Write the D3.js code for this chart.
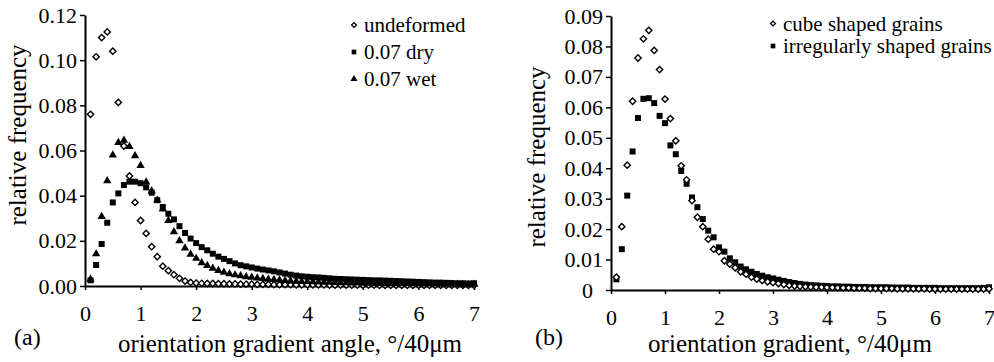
<!DOCTYPE html>
<html>
<head>
<meta charset="utf-8">
<script src="https://cdn.jsdelivr.net/npm/d3@7"></script>
<style>
  body { margin: 0; background: #fff; }
  svg { font-family: "Liberation Serif", "Times New Roman", serif; }
  .axis path, .axis line { stroke: #000; }
  .axis text { font-family: "Liberation Serif", serif; font-size: 22px; fill: #000; }
</style>
</head>
<body>
<div id="chart"></div>
<script>
// bins of the orientation gradient, 0.1 ... 7.0
const bins = d3.range(1, 71).map(i => i / 10);

/* panel (a) */
const undeformed = [
  0.0760, 0.1015, 0.1100, 0.1125, 0.1040, 0.0813, 0.0620, 0.0487, 0.0370, 0.0290,
  0.0233, 0.0174, 0.0130, 0.0088, 0.0068, 0.0050, 0.0034, 0.0022, 0.0016, 0.0013,
  0.0012, 0.0011, 0.0011, 0.0010, 0.0010, 0.0009, 0.0009, 0.0008, 0.0008, 0.0008,
  0.0007, 0.0007, 0.0007, 0.0006, 0.0006, 0.0006, 0.0006, 0.0005, 0.0005, 0.0005,
  0.0005, 0.0005, 0.0005, 0.0004, 0.0004, 0.0004, 0.0004, 0.0004, 0.0004, 0.0004,
  0.0004, 0.0004, 0.0003, 0.0003, 0.0003, 0.0003, 0.0003, 0.0003, 0.0003, 0.0003,
  0.0003, 0.0003, 0.0003, 0.0003, 0.0003, 0.0003, 0.0003, 0.0003, 0.0003, 0.0003
];
const dry = [
  0.0025, 0.0093, 0.0186, 0.0280, 0.0370, 0.0410, 0.0447, 0.0462, 0.0462, 0.0455,
  0.0437, 0.0413, 0.0380, 0.0350, 0.0320, 0.0295, 0.0265, 0.0235, 0.0210, 0.0190,
  0.0172, 0.0158, 0.0143, 0.0130, 0.0120, 0.0110, 0.0100, 0.0092, 0.0087, 0.0082,
  0.0077, 0.0073, 0.0069, 0.0065, 0.0060, 0.0055, 0.0050, 0.0046, 0.0043, 0.0041,
  0.0039, 0.0038, 0.0036, 0.0034, 0.0032, 0.0031, 0.0030, 0.0029, 0.0028, 0.0027,
  0.0026, 0.0025, 0.0025, 0.0024, 0.0023, 0.0022, 0.0021, 0.0020, 0.0019, 0.0018,
  0.0017, 0.0016, 0.0015, 0.0015, 0.0014, 0.0013, 0.0012, 0.0012, 0.0011, 0.0012
];
const wet = [
  0.0030, 0.0142, 0.0307, 0.0466, 0.0580, 0.0635, 0.0645, 0.0617, 0.0576, 0.0533,
  0.0460, 0.0420, 0.0380, 0.0340, 0.0290, 0.0240, 0.0200, 0.0168, 0.0140, 0.0122,
  0.0103, 0.0090, 0.0078, 0.0068, 0.0061, 0.0054, 0.0049, 0.0045, 0.0041, 0.0038,
  0.0035, 0.0033, 0.0030, 0.0028, 0.0026, 0.0024, 0.0022, 0.0021, 0.0020, 0.0019,
  0.0018, 0.0017, 0.0016, 0.0016, 0.0015, 0.0014, 0.0014, 0.0013, 0.0013, 0.0012,
  0.0012, 0.0011, 0.0011, 0.0010, 0.0010, 0.0010, 0.0009, 0.0009, 0.0009, 0.0008,
  0.0008, 0.0008, 0.0008, 0.0007, 0.0007, 0.0007, 0.0007, 0.0006, 0.0006, 0.0007
];

/* panel (b) */
const cube = [
  0.0042, 0.0208, 0.0410, 0.0620, 0.0762, 0.0825, 0.0853, 0.0787, 0.0724, 0.0627,
  0.0563, 0.0490, 0.0408, 0.0362, 0.0294, 0.0239, 0.0208, 0.0167, 0.0134, 0.0126,
  0.0096, 0.0085, 0.0073, 0.0060, 0.0052, 0.0042, 0.0036, 0.0031, 0.0027, 0.0024,
  0.0021, 0.0018, 0.0015, 0.0013, 0.0012, 0.0011, 0.0010, 0.0009, 0.0009, 0.0008,
  0.0008, 0.0007, 0.0007, 0.0007, 0.0006, 0.0006, 0.0006, 0.0005, 0.0005, 0.0005,
  0.0005, 0.0005, 0.0004, 0.0004, 0.0004, 0.0004, 0.0004, 0.0004, 0.0003, 0.0003,
  0.0003, 0.0003, 0.0003, 0.0003, 0.0003, 0.0003, 0.0003, 0.0003, 0.0003, 0.0004
];
const irregular = [
  0.0035, 0.0134, 0.0310, 0.0455, 0.0565, 0.0628, 0.0630, 0.0614, 0.0572, 0.0548,
  0.0475, 0.0446, 0.0391, 0.0349, 0.0304, 0.0272, 0.0233, 0.0195, 0.0173, 0.0140,
  0.0126, 0.0104, 0.0091, 0.0077, 0.0068, 0.0060, 0.0053, 0.0047, 0.0042, 0.0038,
  0.0034, 0.0030, 0.0026, 0.0023, 0.0020, 0.0018, 0.0016, 0.0015, 0.0014, 0.0013,
  0.0012, 0.0012, 0.0011, 0.0011, 0.0010, 0.0010, 0.0010, 0.0009, 0.0009, 0.0009,
  0.0009, 0.0008, 0.0008, 0.0008, 0.0008, 0.0007, 0.0007, 0.0007, 0.0007, 0.0007,
  0.0006, 0.0006, 0.0006, 0.0006, 0.0006, 0.0006, 0.0006, 0.0006, 0.0007, 0.0009
];

const xTicks = [0, 1, 2, 3, 4, 5, 6, 7];
const yTicksA = [0, 0.02, 0.04, 0.06, 0.08, 0.10, 0.12];
const yTicksB = [0, 0.01, 0.02, 0.03, 0.04, 0.05, 0.06, 0.07, 0.08, 0.09];

const width = 994, height = 362;

const svg = d3.select("#chart")
    .append("svg")
    .attr("width", width)
    .attr("height", height);

/* marker shapes */
const shapes = {
  diamond:  s => d3.symbol(d3.symbolSquare, s)(),
  square:   s => d3.symbol(d3.symbolSquare, s)(),
  triangle: s => d3.symbol(d3.symbolTriangle, s)()
};
const rot = { diamond: 45, square: 0, triangle: 0 };
const fillOf = { diamond: "#fff", square: "#000", triangle: "#000" };
const sizeOf = { diamond: 20, square: 36, triangle: 30 };

function drawPanel(cfg) {
  const xScale = d3.scaleLinear().domain([0, 7]).range(cfg.xRange);
  const yScale = d3.scaleLinear().domain(cfg.yDomain).range(cfg.yRange);

  // axes
  svg.append("g")
      .attr("class", "axis")
      .attr("transform", `translate(0,${cfg.yRange[0]})`)
      .call(d3.axisBottom(xScale).tickValues(xTicks).tickSize(4).tickSizeOuter(0).tickPadding(15).tickFormat(d3.format("d")))
      .call(g => g.select(".domain").attr("stroke-width", 2))
      .call(g => g.selectAll(".tick line").attr("stroke-width", 1.5));

  const yAx = svg.append("g")
      .attr("class", "axis")
      .attr("transform", `translate(${cfg.xRange[0]},0)`)
      .call(d3.axisLeft(yScale).tickValues(cfg.yTicks).tickSize(5).tickSizeOuter(0).tickPadding(3).tickFormat(cfg.yFormat))
      .call(g => g.select(".domain").attr("stroke-width", 2))
      .call(g => g.selectAll(".tick line").attr("stroke-width", 1.5));
  if (cfg.zeroShift) {
    yAx.selectAll(".tick text").filter(d => d === 0).attr("dx", cfg.zeroShift);
  }

  // points
  cfg.series.forEach(s => {
    svg.append("g").selectAll("path")
        .data(bins.map((b, i) => ({ x: b, y: s.values[i] })))
        .enter()
        .append("path")
        .attr("d", shapes[s.shape](sizeOf[s.shape]))
        .attr("transform", d => `translate(${xScale(d.x)},${yScale(d.y)}) rotate(${rot[s.shape]})`)
        .attr("fill", fillOf[s.shape])
        .attr("stroke", "#000")
        .attr("stroke-width", s.shape === "diamond" ? 1.4 : 0);
  });

  // legend
  const leg = svg.append("g").attr("transform", `translate(${cfg.legend.x},${cfg.legend.y})`);
  cfg.series.forEach((s, i) => {
    const row = leg.append("g").attr("transform", `translate(0,${i * cfg.legend.step})`);
    row.append("path")
        .attr("d", shapes[s.shape](s.shape === "diamond" ? 12 : 22))
        .attr("transform", `rotate(${rot[s.shape]})`)
        .attr("fill", fillOf[s.shape])
        .attr("stroke", "#000")
        .attr("stroke-width", s.shape === "diamond" ? 1.3 : 0);
    row.append("text")
        .attr("x", 10)
        .attr("y", 7)
        .attr("font-size", 21)
        .text(s.name);
  });

  // axis titles
  svg.append("text")
      .attr("x", cfg.xTitleX)
      .attr("y", 352)
      .attr("text-anchor", "middle")
      .attr("font-size", 25)
      .text(cfg.xTitle);

  svg.append("text")
      .attr("transform", `translate(${cfg.yTitleX},${cfg.yTitleY}) rotate(-90)`)
      .attr("text-anchor", "middle")
      .attr("font-size", 25)
      .text("relative frequency");

  svg.append("text")
      .attr("x", cfg.tagX)
      .attr("y", 345)
      .attr("font-size", 24)
      .text(cfg.tag);
}

drawPanel({
  xRange: [85, 474],
  yDomain: [0, 0.12],
  yRange: [286, 15],
  yTicks: yTicksA,
  yFormat: d3.format(".2f"),
  series: [
    { name: "undeformed", shape: "diamond", values: undeformed },
    { name: "0.07 dry", shape: "square", values: dry },
    { name: "0.07 wet", shape: "triangle", values: wet }
  ],
  legend: { x: 354, y: 25, step: 27 },
  xTitle: "orientation gradient angle, °/40μm",
  xTitleX: 290,
  yTitleX: 26,
  yTitleY: 135,
  tag: "(a)",
  tagX: 14
});

drawPanel({
  xRange: [611, 989],
  yDomain: [0, 0.09],
  yRange: [290, 16],
  yTicks: yTicksB,
  yFormat: d => d === 0 ? "0" : d3.format(".2f")(d),
  zeroShift: -10,
  series: [
    { name: "irregularly shaped grains", shape: "square", values: irregular },
    { name: "cube shaped grains", shape: "diamond", values: cube }
  ],
  legend: { x: 773, y: 46, step: -22.5 },
  xTitle: "orientation gradient, °/40μm",
  xTitleX: 790,
  yTitleX: 545,
  yTitleY: 157,
  tag: "(b)",
  tagX: 535
});
</script>
</body>
</html>
